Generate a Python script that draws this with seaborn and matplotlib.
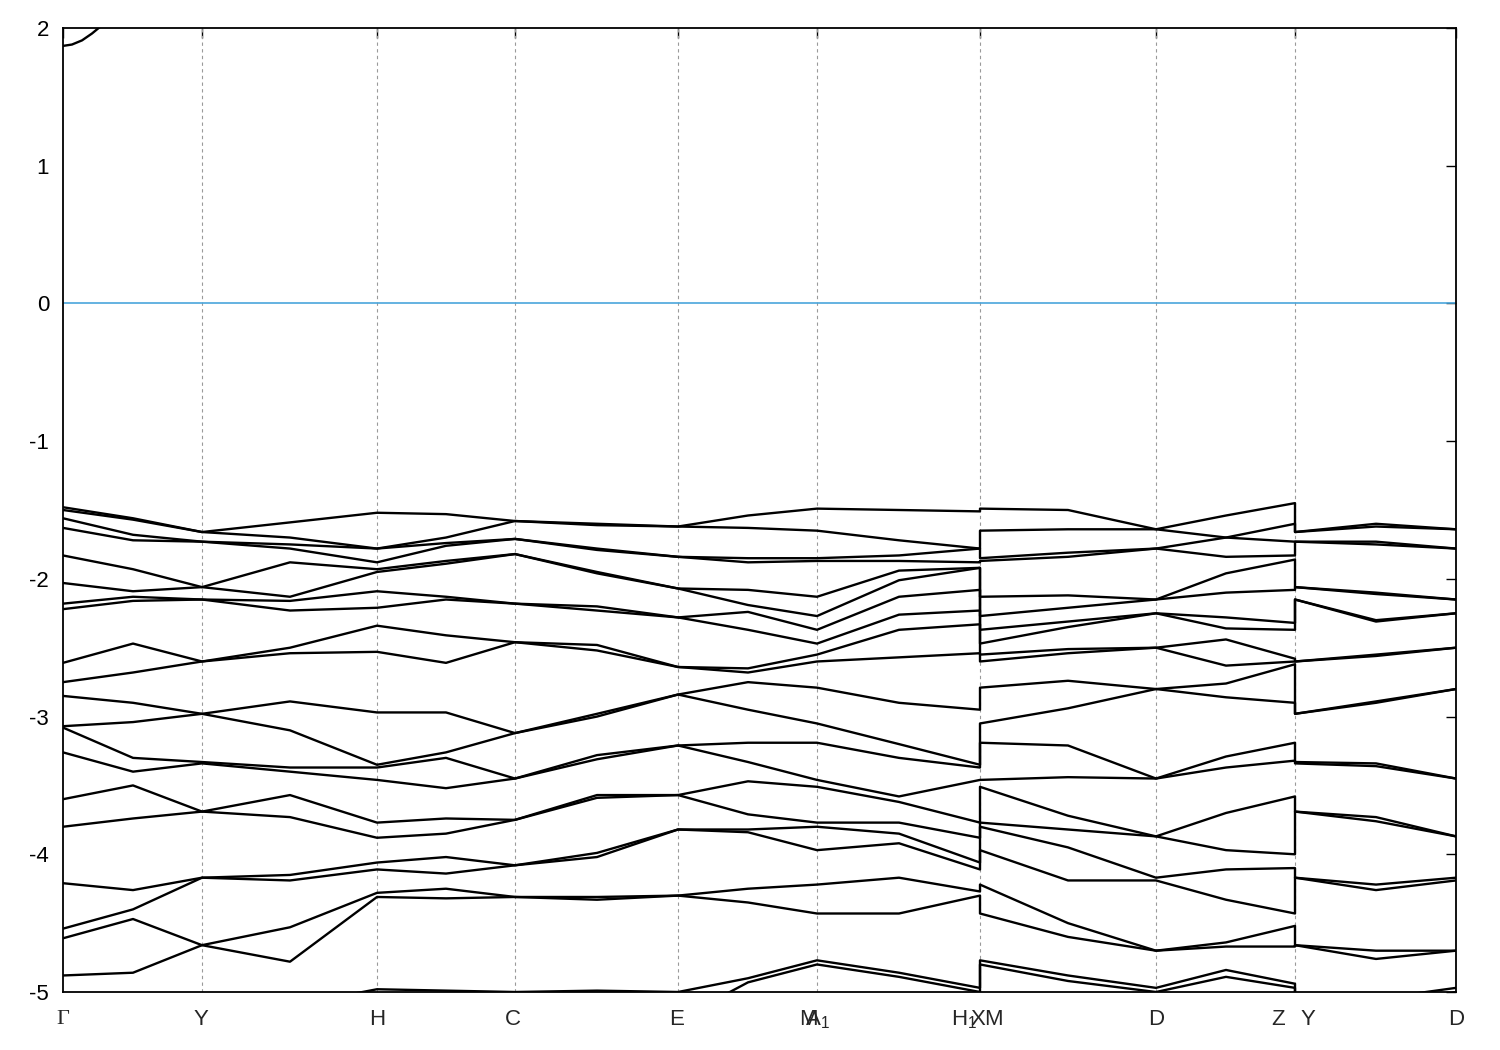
import numpy as np
import pandas as pd
import matplotlib
matplotlib.use("Agg")
import matplotlib.pyplot as plt
import matplotlib.transforms as mtransforms
import seaborn as sns

# k-path distance of every sampled column (high-symmetry points + midpoints)
k_path = [0, 70, 139, 227, 314, 383, 452, 534, 615, 685, 754, 836, 917, 917,
          1005, 1093, 1163, 1232, 1232, 1313, 1393]

# band energies (eV), sorted top-down, one list per column
e_G  = [-1.48, -1.50, -1.56, -1.63, -1.83, -2.03, -2.18, -2.22, -2.61, -2.75, -2.85,
        -3.07, -3.08, -3.26, -3.60, -3.80, -4.21, -4.54, -4.61, -4.88, -5.20, -5.30]
e_GY = [-1.56, -1.57, -1.68, -1.72, -1.93, -2.09, -2.13, -2.16, -2.47, -2.68, -2.90,
        -3.04, -3.30, -3.40, -3.50, -3.74, -4.26, -4.40, -4.47, -4.86, -5.20, -5.30]
e_Y  = [-1.66, -1.66, -1.73, -1.73, -2.06, -2.06, -2.15, -2.15, -2.60, -2.60, -2.98,
        -2.98, -3.33, -3.34, -3.69, -3.69, -4.17, -4.17, -4.66, -4.66, -5.20, -5.30]
e_YH = [-1.59, -1.70, -1.75, -1.78, -1.88, -2.13, -2.16, -2.23, -2.50, -2.54, -2.89,
        -3.10, -3.37, -3.40, -3.57, -3.73, -4.15, -4.19, -4.53, -4.78, -5.10, -5.30]
e_H  = [-1.52, -1.78, -1.78, -1.88, -1.93, -1.95, -2.09, -2.21, -2.34, -2.53, -2.97,
        -3.35, -3.37, -3.46, -3.77, -3.88, -4.06, -4.11, -4.28, -4.31, -4.98, -5.20]
e_HC = [-1.53, -1.70, -1.74, -1.76, -1.87, -1.89, -2.13, -2.15, -2.41, -2.61, -2.97,
        -3.26, -3.30, -3.52, -3.74, -3.85, -4.02, -4.14, -4.25, -4.32, -4.99, -5.20]
e_C  = [-1.58, -1.58, -1.71, -1.71, -1.82, -1.82, -2.18, -2.18, -2.46, -2.46, -3.12,
        -3.12, -3.45, -3.45, -3.75, -3.75, -4.08, -4.08, -4.31, -4.31, -5.00, -5.20]
e_CE = [-1.60, -1.61, -1.78, -1.79, -1.95, -1.96, -2.20, -2.23, -2.48, -2.52, -2.98,
        -3.00, -3.28, -3.31, -3.57, -3.59, -3.99, -4.02, -4.31, -4.33, -4.99, -5.15]
e_E  = [-1.62, -1.62, -1.84, -1.84, -2.07, -2.07, -2.28, -2.28, -2.64, -2.64, -2.84,
        -2.84, -3.21, -3.21, -3.57, -3.57, -3.82, -3.82, -4.30, -4.30, -5.00, -5.20]
e_EM = [-1.54, -1.63, -1.85, -1.88, -2.08, -2.19, -2.24, -2.37, -2.65, -2.68, -2.75,
        -2.95, -3.19, -3.33, -3.47, -3.71, -3.82, -3.84, -4.25, -4.35, -4.90, -4.93]
e_M  = [-1.49, -1.65, -1.85, -1.87, -2.13, -2.27, -2.37, -2.47, -2.55, -2.60, -2.79,
        -3.05, -3.19, -3.46, -3.51, -3.77, -3.80, -3.97, -4.22, -4.43, -4.77, -4.80]
e_MX = [-1.50, -1.72, -1.83, -1.87, -1.94, -2.01, -2.13, -2.26, -2.37, -2.57, -2.90,
        -3.20, -3.30, -3.58, -3.62, -3.77, -3.85, -3.92, -4.17, -4.43, -4.86, -4.89]
e_X  = [-1.51, -1.78, -1.78, -1.88, -1.92, -1.92, -2.08, -2.23, -2.33, -2.54, -2.95,
        -3.35, -3.37, -3.46, -3.77, -3.88, -4.06, -4.11, -4.27, -4.30, -4.97, -5.00]
e_MD = [-1.50, -1.64, -1.81, -1.84, -2.12, -2.21, -2.31, -2.35, -2.51, -2.54, -2.74,
        -2.94, -3.21, -3.44, -3.72, -3.82, -3.95, -4.19, -4.50, -4.60, -4.88, -4.92]
e_D  = [-1.64, -1.64, -1.78, -1.78, -2.15, -2.15, -2.25, -2.25, -2.50, -2.50, -2.80,
        -2.80, -3.45, -3.45, -3.87, -3.87, -4.17, -4.19, -4.70, -4.70, -4.97, -5.00]
e_DZ = [-1.54, -1.70, -1.70, -1.84, -1.96, -2.10, -2.28, -2.36, -2.44, -2.63, -2.76,
        -2.86, -3.29, -3.37, -3.70, -3.97, -4.11, -4.33, -4.64, -4.67, -4.84, -4.89]
e_Z  = [-1.45, -1.60, -1.73, -1.83, -1.86, -2.08, -2.32, -2.37, -2.58, -2.60, -2.62,
        -2.90, -3.19, -3.32, -3.58, -4.00, -4.10, -4.43, -4.52, -4.67, -4.94, -4.97]
e_YD = [-1.60, -1.62, -1.73, -1.75, -2.10, -2.11, -2.30, -2.31, -2.55, -2.56, -2.89,
        -2.90, -3.34, -3.36, -3.73, -3.76, -4.22, -4.26, -4.70, -4.76, -5.05, -5.15]

# lowest conduction band near Gamma
cb_k = [0, 9, 19, 29, 39]
cb_e = [1.87, 1.88, 1.91, 1.96, 2.02]

# tick marks and labels along the path
tick_k = [0, 139, 314, 452, 615, 754, 917, 1093, 1232, 1393]
label_k = [0, 138, 314, 450, 614, 745, 754, 901, 915, 930, 1093, 1215, 1245, 1393]
label_txt = ["Γ", "Y", "H", "C", "E", "M", "A$_1$", "H$_1$", "X", "M", "D", "Z", "Y", "D"]

columns = [e_G, e_GY, e_Y, e_YH, e_H, e_HC, e_C, e_CE, e_E, e_EM, e_M, e_MX, e_X,
           e_M, e_MD, e_D, e_DZ, e_Z, e_Y, e_YD, e_D]
grid = np.array(columns)  # (n_columns, n_bands)
rows = []
for b in range(grid.shape[1]):
    for k, e in zip(k_path, grid[:, b]):
        rows.append({"k": k, "E": e, "band": b})
df = pd.DataFrame(rows)
cb = pd.DataFrame({"k": cb_k, "E": cb_e})

sns.set_theme(style="white")
plt.rcParams["font.family"] = ["Liberation Sans", "DejaVu Sans"]
plt.rcParams["axes.unicode_minus"] = False
plt.rcParams["mathtext.fontset"] = "custom"
plt.rcParams["mathtext.rm"] = "Liberation Sans"
plt.rcParams["mathtext.it"] = "Liberation Sans"

fig = plt.figure(figsize=(15, 10.5), dpi=100)
ax = fig.add_axes([63 / 1500, 58 / 1050, 1393 / 1500, 964 / 1050])

# dashed guides at the high-symmetry points, Fermi level in blue
for k in tick_k[1:-1]:
    ax.axvline(k, color="#9a9a9a", lw=0.8, ls=(0, (3, 3)), zorder=1)
ax.axhline(0, color="#4aa6dc", lw=1.2, zorder=2)

sns.lineplot(data=df, x="k", y="E", units="band", estimator=None, sort=False,
             color="black", lw=1.7, ax=ax, zorder=3)
sns.lineplot(data=cb, x="k", y="E", estimator=None, sort=False,
             color="black", lw=1.7, ax=ax, zorder=3)

ax.set_xlim(0, 1393)
ax.set_ylim(-5, 2)
ax.set_yticks(range(-5, 3))
ax.set_yticklabels([str(v) for v in range(-5, 3)], fontsize=16)
ax.set_xticks(tick_k)
ax.set_xticklabels([])
ax.set_xlabel("")
ax.set_ylabel("")
ax.tick_params(direction="in", length=7, width=1.0, top=True, right=True,
               colors="black", pad=10)
for s in ax.spines.values():
    s.set_color("black")
    s.set_linewidth(1.3)
    s.set_visible(True)

trans = mtransforms.blended_transform_factory(ax.transData, ax.transAxes)
for k, t in zip(label_k, label_txt):
    fam = ["Liberation Serif"] if t == "Γ" else ["Liberation Sans", "DejaVu Sans"]
    ax.text(k, -0.029, t, transform=trans, ha="center", va="center",
            fontsize=16, family=fam)

fig.savefig("out.png", dpi=100)
plt.close(fig)
